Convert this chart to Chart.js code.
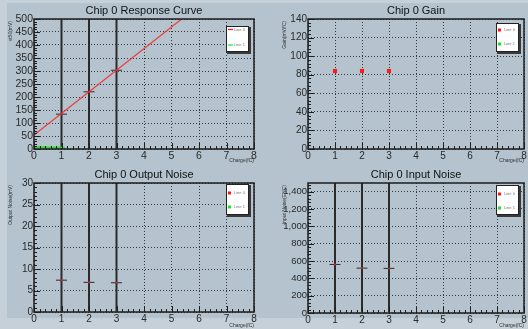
<!DOCTYPE html>
<html>
<head>
<meta charset="utf-8">
<script src="https://cdn.jsdelivr.net/npm/chart.js@4"></script>
<style>
  body { margin: 0; width: 528px; height: 329px; overflow: hidden; position: relative; background: #c5d0d9; }
  .pad { position: absolute; left: 7px; top: 3px; width: 521px; height: 315px; background: #b4c3ce; }
  canvas { position: absolute; }
</style>
</head>
<body>
<div class="pad"></div>
<canvas id="c0" width="264" height="164" style="left:0;top:0"></canvas>
<canvas id="c1" width="264" height="164" style="left:264px;top:0"></canvas>
<canvas id="c2" width="264" height="165" style="left:0;top:164px"></canvas>
<canvas id="c3" width="264" height="165" style="left:264px;top:164px"></canvas>
<script>
// Data
const charge = [1, 2, 3];
const chargeErr = [0.2, 0.2, 0.2];
const line1Y = [0, 0, 0];

const vt50 = [134, 220, 303];
const respFitX = [0, 5.37];
const respFitY = [54, 500];
const line1FitX = [0, 1.12];
const line1FitY = [7, 5];
const respLine1Err = [600, 600, 600];

const gain = [84, 84, 84];

const outNoise = [7.4, 6.9, 6.8];
const outLine1Err = [40, 40, 40];

const inNoise = [560, 518, 515];
const inLine1Err = [2000, 2000, 2000];

const titles = ['Chip 0 Response Curve', 'Chip 0 Gain', 'Chip 0 Output Noise', 'Chip 0 Input Noise'];
const yTitles = ['vt50(mV)', 'Gain(mV/fC)', 'Output Noise(mV)', 'Input Noise(ENC)'];
const xTitle = 'Charge(fC)';
const legendLabels = ['Line 0', 'Line 1'];
const xMax = 8;
const yMax = [500, 140, 30, 1500];
const yStep = [50, 20, 5, 200];

const RED = '#ff1a1a';
const GREEN = '#1ee01e';
const BAR = '#2b2b2b';
const FONT = "'Liberation Sans', Arial, sans-serif";

const pts = (xs, ys) => xs.map((x, i) => ({ x, y: ys[i] }));

// error bars drawn through the chart scales
const errorBars = {
  id: 'errorBars',
  beforeDatasetsDraw(chart) {
    const { ctx, chartArea: a, scales: { x, y } } = chart;
    ctx.save();
    ctx.beginPath();
    ctx.rect(a.left, a.top, a.right - a.left, a.bottom - a.top);
    ctx.clip();
    chart.data.datasets.forEach(ds => {
      if (!ds.xErr && !ds.yErr) return;
      ctx.strokeStyle = ds.errColor || BAR;
      ctx.lineWidth = ds.errWidth || 1;
      ds.data.forEach((p, i) => {
        const px = x.getPixelForValue(p.x);
        const py = y.getPixelForValue(p.y);
        ctx.beginPath();
        if (ds.xErr) {
          ctx.moveTo(x.getPixelForValue(p.x - ds.xErr[i]), py);
          ctx.lineTo(x.getPixelForValue(p.x + ds.xErr[i]), py);
        }
        if (ds.yErr) {
          ctx.moveTo(px, y.getPixelForValue(p.y - ds.yErr[i]));
          ctx.lineTo(px, y.getPixelForValue(p.y + ds.yErr[i]));
        }
        ctx.stroke();
      });
    });
    ctx.restore();
  }
};

// ROOT style frame, inner ticks, titles
const frame = {
  id: 'frame',
  afterDraw(chart, args, opts) {
    const { ctx, chartArea: a, scales: { x, y } } = chart;
    ctx.save();
    ctx.strokeStyle = '#1e1e1e';
    ctx.lineWidth = 1;
    ctx.beginPath();
    [x, y].forEach(s => {
      const step = s.ticks[1].value - s.ticks[0].value;
      const minor = step / 5;
      const n = Math.floor((s.max - s.min) / minor + 1e-6);
      for (let i = 0; i <= n; i++) {
        const v = s.min + i * minor;
        const len = i % 5 === 0 ? 6 : 3;
        const p = Math.round(s.getPixelForValue(v)) + 0.5;
        if (s.axis === 'x') { ctx.moveTo(p, a.bottom); ctx.lineTo(p, a.bottom - len); }
        else { ctx.moveTo(a.left, p); ctx.lineTo(a.left + len, p); }
      }
    });
    ctx.stroke();
    ctx.lineWidth = 1.5;
    ctx.strokeRect(a.left, a.top, a.right - a.left, a.bottom - a.top);

    ctx.fillStyle = '#111';
    ctx.font = `11px ${FONT}`;
    ctx.textAlign = 'center';
    ctx.textBaseline = 'alphabetic';
    ctx.fillText(opts.title, (a.left + a.right) / 2, 13.5);

    ctx.fillStyle = '#333';
    ctx.font = `5px ${FONT}`;
    ctx.textAlign = 'right';
    ctx.fillText(xTitle, a.right, chart.height - 2);
    ctx.translate(a.left - 23, a.top + 2);
    ctx.rotate(-Math.PI / 2);
    ctx.textBaseline = 'middle';
    ctx.fillText(opts.yTitle, 0, 0);
    ctx.restore();
  }
};

const boxLegend = {
  id: 'boxLegend',
  afterDraw(chart, args, o) {
    const { ctx, chartArea: a } = chart;
    const w = 23, h = o.height;
    const bx = a.right - 5 - w, by = a.top + o.top;
    ctx.save();
    ctx.fillStyle = '#3a3a3a';
    ctx.fillRect(bx + 1, by + 1, w + 1, h + 1);
    ctx.fillStyle = '#fff';
    ctx.fillRect(bx, by, w, h);
    ctx.strokeStyle = '#222';
    ctx.lineWidth = 1;
    ctx.strokeRect(bx + 0.5, by + 0.5, w - 1, h - 1);
    const colors = [RED, GREEN];
    legendLabels.forEach((lab, i) => {
      const ey = by + o.rows[i];
      if (o.style === 'line') {
        ctx.strokeStyle = colors[i];
        ctx.lineWidth = 1.2;
        ctx.beginPath();
        ctx.moveTo(bx + 2, ey);
        ctx.lineTo(bx + 7, ey);
        ctx.stroke();
      } else {
        ctx.fillStyle = colors[i];
        ctx.fillRect(bx + 2, ey - 1.5, 3, 3);
      }
      ctx.fillStyle = '#777';
      ctx.font = `4px ${FONT}`;
      ctx.textBaseline = 'middle';
      ctx.fillText(lab, bx + 8, ey);
    });
    ctx.restore();
  }
};

function makeChart(id, idx, datasets, cfg) {
  const tickFont = { family: FONT, size: cfg.tickSize || 10.5 };
  return new Chart(document.getElementById(id), {
    type: 'scatter',
    data: { datasets },
    plugins: [errorBars, frame, boxLegend],
    options: {
      responsive: false,
      animation: false,
      events: [],
      layout: { padding: { top: 19, left: 0, right: cfg.padRight, bottom: 0 } },
      plugins: {
        legend: { display: false },
        tooltip: { enabled: false },
        frame: { title: titles[idx], yTitle: yTitles[idx] },
        boxLegend: cfg.legend
      },
      scales: {
        x: {
          type: 'linear', min: 0, max: xMax,
          ticks: { stepSize: 1, autoSkip: false, font: tickFont, color: '#2a2a2a', padding: 1, maxRotation: 0 },
          grid: { color: '#3a3a3a', lineWidth: 1, drawTicks: false },
          border: { display: false, dash: [1, 2] },
          afterFit(s) { s.height = cfg.height - cfg.bottom; s.paddingLeft = 0; s.paddingRight = 0; }
        },
        y: {
          type: 'linear', min: 0, max: yMax[idx],
          ticks: { stepSize: yStep[idx], autoSkip: false, includeBounds: false, font: cfg.yFont || tickFont, color: '#2a2a2a', padding: 1 },
          grid: { color: '#3a3a3a', lineWidth: 1, drawTicks: false },
          border: { display: false, dash: [1, 2] },
          afterFit(s) { s.width = cfg.left; s.paddingTop = 0; s.paddingBottom = 0; }
        }
      }
    }
  });
}

const markerDs = (data, color, r, extra) => Object.assign({
  data, showLine: false, pointStyle: 'rect', pointRadius: r,
  backgroundColor: color, borderWidth: 0
}, extra);

const lineDs = (data, color, width) => ({
  data, showLine: true, pointRadius: 0, borderColor: color, borderWidth: width, fill: false
});

makeChart('c0', 0, [
  markerDs(pts(charge, line1Y), '#3040e0', 1.4, { yErr: respLine1Err, errWidth: 2, errColor: BAR }),
  markerDs(pts(charge, vt50), RED, 1.2, { xErr: chargeErr }),
  lineDs(pts(respFitX, respFitY), '#f03a3a', 1.2),
  lineDs(pts(line1FitX, line1FitY), GREEN, 2)
], { left: 34, padRight: 10, height: 164, bottom: 149,
     legend: { style: 'line', top: 7, height: 26, rows: [3.5, 19] } });

makeChart('c1', 1, [
  markerDs(pts(charge, gain), RED, 2.9)
], { left: 44, padRight: 1, height: 164, bottom: 149, tickSize: 10,
     legend: { style: 'box', top: 4, height: 29, rows: [7, 21] } });

makeChart('c2', 2, [
  markerDs(pts(charge, line1Y), GREEN, 1.5, { yErr: outLine1Err, errWidth: 2, errColor: BAR }),
  markerDs(pts(charge, outNoise), RED, 1.2, { xErr: chargeErr })
], { left: 34, padRight: 10, height: 165, bottom: 148, tickSize: 10,
     legend: { style: 'box', top: 1, height: 31, rows: [9, 23] } });

makeChart('c3', 3, [
  markerDs(pts(charge, line1Y), GREEN, 1.5, { yErr: inLine1Err, errWidth: 2, errColor: BAR }),
  markerDs(pts(charge, inNoise), RED, 1.2, { xErr: chargeErr })
], { left: 44, padRight: 1, height: 165, bottom: 149, tickSize: 10,
     yFont: { family: "'Liberation Sans Narrow', " + FONT, size: 9.5 },
     legend: { style: 'box', top: 2, height: 30, rows: [9, 23] } });
</script>
</body>
</html>
